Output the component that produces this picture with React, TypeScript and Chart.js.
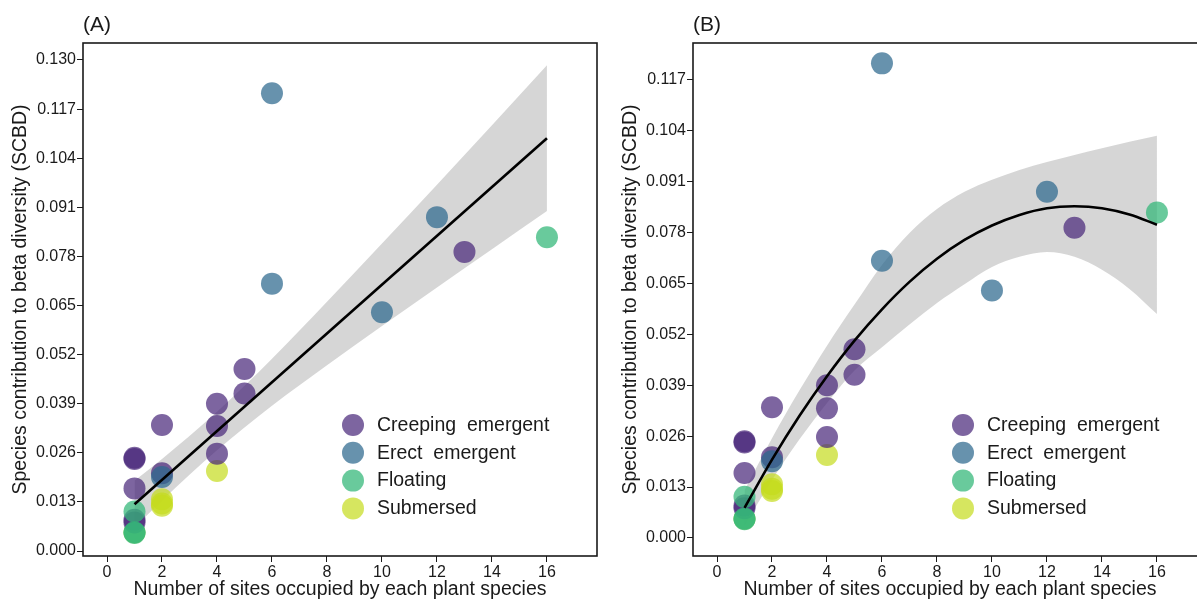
import React, { useEffect, useRef } from 'react';
import { Chart, registerables } from 'chart.js';

Chart.register(...registerables);

const FONT = '"Liberation Sans", Arial, Helvetica, sans-serif';
const INK = '#1a1a1a';

// Groups (legend order)
const groupNames = ['Creeping  emergent', 'Erect  emergent', 'Floating', 'Submersed'];
const groupColors = [
  'rgba(70, 35, 120, 0.70)',
  'rgba(45, 104, 142, 0.72)',
  'rgba(53, 183, 121, 0.74)',
  'rgba(196, 220, 28, 0.70)',
];

// Species points: number of sites occupied (x) and SCBD (y)
const creepingX = [1, 1, 1, 1, 1, 2, 2, 4, 4, 4, 5, 5, 13];
const creepingY = [0.0247, 0.0244, 0.0166, 0.0083, 0.0076, 0.0334, 0.0206, 0.0390, 0.0331, 0.0258, 0.0482, 0.0417, 0.0792];
const erectX = [2, 6, 6, 10, 12];
const erectY = [0.0196, 0.1212, 0.0708, 0.0632, 0.0884];
const floatingX = [1, 1, 1, 16];
const floatingY = [0.0105, 0.0050, 0.0048, 0.0831];
const submersedX = [1, 2, 2, 2, 4];
const submersedY = [0.0049, 0.0137, 0.0126, 0.0120, 0.0212];

// Tick labels
const xTickValues = [0, 2, 4, 6, 8, 10, 12, 14, 16];
const yTickValuesA = [0.000, 0.013, 0.026, 0.039, 0.052, 0.065, 0.078, 0.091, 0.104, 0.117, 0.130];
const yTickValuesB = [0.000, 0.013, 0.026, 0.039, 0.052, 0.065, 0.078, 0.091, 0.104, 0.117];

// Panel A: linear fit and confidence band
const fitAX = [1, 16];
const fitAY = [0.0124, 0.1093];
const bandAX = [1, 2, 4, 6, 8, 10, 12, 14, 16];
const bandAUpper = [0.0186, 0.0244, 0.0369, 0.0509, 0.0660, 0.0814, 0.0970, 0.1127, 0.1286];
const bandALower = [0.0062, 0.0134, 0.0267, 0.0385, 0.0492, 0.0596, 0.0698, 0.0799, 0.0900];

// Panel B: quadratic fit and confidence band
const fitBX = [1, 2, 3, 4, 5, 6, 7, 8, 9, 10, 11, 12, 13, 14, 15, 16];
const fitBY = [0.0077, 0.0200, 0.0312, 0.0413, 0.0504, 0.0584, 0.0654, 0.0713, 0.0761, 0.0798, 0.0825, 0.0842, 0.0847, 0.0842, 0.0826, 0.0800];
const bandBUpper = [0.0122, 0.0255, 0.0377, 0.0491, 0.0596, 0.0697, 0.0779, 0.0840, 0.0884, 0.0915, 0.0940, 0.0960, 0.0978, 0.0995, 0.1012, 0.1027];
const bandBLower = [0.0032, 0.0148, 0.0252, 0.0345, 0.0428, 0.0487, 0.0545, 0.0600, 0.0648, 0.0692, 0.0718, 0.0730, 0.0718, 0.0685, 0.0636, 0.0572];

const groupXs = [creepingX, erectX, floatingX, submersedX];
const groupYs = [creepingY, erectY, floatingY, submersedY];
const groupOrder = [4, 2, 3, 5];

const pts = (xs: number[], ys: number[]) => xs.map((x, i) => ({ x, y: ys[i] }));

type PanelProps = {
  left: number;
  tag: string;
  yMin: number;
  yMax: number;
  yTicks: number[];
  fitX: number[];
  fitY: number[];
  bandX: number[];
  bandUpper: number[];
  bandLower: number[];
};

function makeDecor(tag: string) {
  return {
    id: 'decor',
    afterDraw(chart: any) {
      const { ctx, chartArea: ca } = chart;
      ctx.save();
      ctx.strokeStyle = INK;
      ctx.lineWidth = 1.6;
      ctx.strokeRect(ca.left, ca.top, ca.right - ca.left, ca.bottom - ca.top);
      ctx.fillStyle = INK;
      ctx.font = `21px ${FONT}`;
      ctx.textAlign = 'left';
      ctx.textBaseline = 'middle';
      ctx.fillText(tag, ca.left, 25);
      ctx.font = `19.5px ${FONT}`;
      groupNames.forEach((name, i) => {
        const cy = 425 + i * 27.8;
        ctx.beginPath();
        ctx.arc(353, cy, 11, 0, Math.PI * 2);
        ctx.fillStyle = groupColors[i];
        ctx.fill();
        ctx.fillStyle = INK;
        ctx.fillText(name, 377, cy + 0.5);
      });
      ctx.restore();
    },
  };
}

function Panel(p: PanelProps) {
  const ref = useRef<HTMLCanvasElement>(null);
  useEffect(() => {
    if (!ref.current) return;
    const pointSets = groupNames.map((name, i) => ({
      type: 'scatter' as const,
      label: name,
      data: pts(groupXs[i], groupYs[i]),
      backgroundColor: groupColors[i],
      borderWidth: 0,
      pointRadius: 11,
      pointHoverRadius: 11,
      order: groupOrder[i],
    }));
    const chart = new Chart(ref.current, {
      type: 'scatter',
      data: {
        datasets: [
          {
            type: 'line',
            label: 'upper',
            data: pts(p.bandX, p.bandUpper),
            borderColor: 'rgba(0,0,0,0)',
            borderWidth: 0,
            pointRadius: 0,
            fill: '+1',
            backgroundColor: 'rgba(153,153,153,0.4)',
            cubicInterpolationMode: 'monotone',
            order: 10,
          },
          {
            type: 'line',
            label: 'lower',
            data: pts(p.bandX, p.bandLower),
            borderColor: 'rgba(0,0,0,0)',
            borderWidth: 0,
            pointRadius: 0,
            fill: false,
            cubicInterpolationMode: 'monotone',
            order: 10,
          },
          ...pointSets,
          {
            type: 'line',
            label: 'fit',
            data: pts(p.fitX, p.fitY),
            borderColor: '#000',
            borderWidth: 2.6,
            pointRadius: 0,
            fill: false,
            cubicInterpolationMode: 'monotone',
            order: 1,
          },
        ] as any,
      },
      options: {
        responsive: false,
        animation: false,
        devicePixelRatio: 1,
        events: [],
        layout: { padding: { left: 0, right: 3, top: 43, bottom: 0 }, autoPadding: false },
        plugins: { legend: { display: false }, tooltip: { enabled: false }, title: { display: false } },
        scales: {
          x: {
            type: 'linear',
            min: -0.873,
            max: 17.82,
            afterBuildTicks: (s: any) => {
              s.ticks = xTickValues.map((v) => ({ value: v }));
            },
            afterFit: (s: any) => {
              s.height = 45;
              s.paddingLeft = 0;
              s.paddingRight = 0;
              s.paddingTop = 0;
              s.paddingBottom = 0;
            },
            grid: { drawOnChartArea: false, drawTicks: true, tickLength: 6, color: INK, lineWidth: 1 },
            border: { display: false },
            ticks: {
              font: { size: 16, family: FONT },
              color: INK,
              padding: 1,
              maxRotation: 0,
              autoSkip: false,
              callback: (v: any) => String(v),
            },
            title: {
              display: true,
              text: 'Number of sites occupied by each plant species',
              font: { size: 19.5, family: FONT },
              color: INK,
              padding: { top: 0, bottom: 0 },
            },
          },
          y: {
            type: 'linear',
            min: p.yMin,
            max: p.yMax,
            afterBuildTicks: (s: any) => {
              s.ticks = p.yTicks.map((v) => ({ value: v }));
            },
            afterFit: (s: any) => {
              s.width = 83;
              s.paddingLeft = 0;
              s.paddingRight = 0;
              s.paddingTop = 0;
              s.paddingBottom = 0;
            },
            grid: { drawOnChartArea: false, drawTicks: true, tickLength: 6, color: INK, lineWidth: 1 },
            border: { display: false },
            ticks: {
              font: { size: 16, family: FONT },
              color: INK,
              padding: 1,
              autoSkip: false,
              callback: (v: any) => Number(v).toFixed(3),
            },
            title: {
              display: true,
              text: 'Species contribution to beta diversity (SCBD)',
              font: { size: 19.5, family: FONT },
              color: INK,
              padding: { top: 9, bottom: 0 },
            },
          },
        },
      } as any,
      plugins: [makeDecor(p.tag)],
    });
    return () => chart.destroy();
  }, []);
  return (
    <canvas
      ref={ref}
      width={600}
      height={601}
      style={{ position: 'absolute', left: p.left, top: 0, width: 600, height: 601 }}
    />
  );
}

export default function App() {
  return (
    <div
      style={{
        position: 'absolute',
        left: 0,
        top: 0,
        width: 1197,
        height: 601,
        overflow: 'hidden',
        background: '#fff',
      }}
    >
      <Panel
        left={0}
        tag="(A)"
        yMin={-0.0013}
        yMax={0.1345}
        yTicks={yTickValuesA}
        fitX={fitAX}
        fitY={fitAY}
        bandX={bandAX}
        bandUpper={bandAUpper}
        bandLower={bandALower}
      />
      <Panel
        left={610}
        tag="(B)"
        yMin={-0.0046}
        yMax={0.1264}
        yTicks={yTickValuesB}
        fitX={fitBX}
        fitY={fitBY}
        bandX={fitBX}
        bandUpper={bandBUpper}
        bandLower={bandBLower}
      />
    </div>
  );
}
